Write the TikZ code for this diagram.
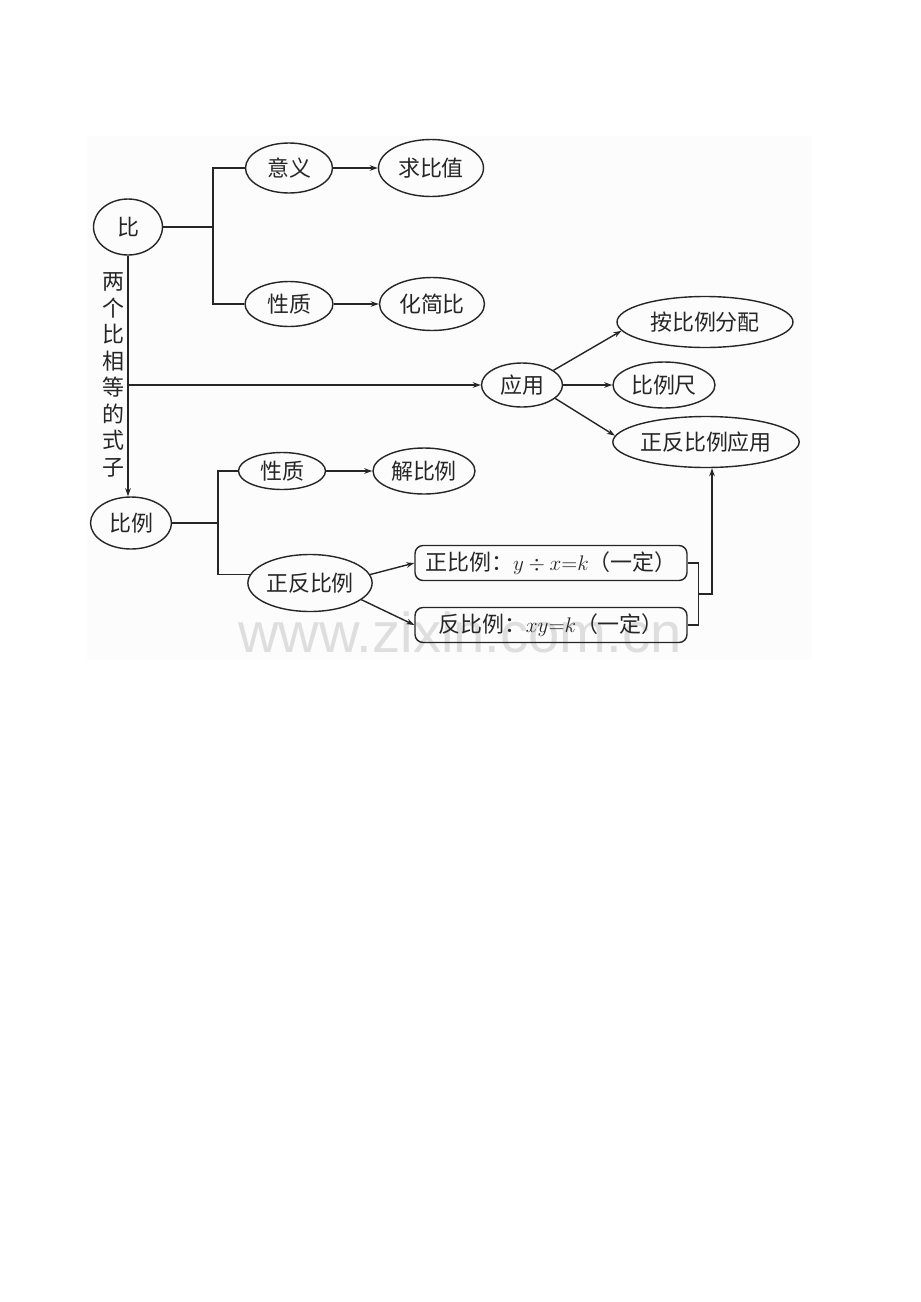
\documentclass[tikz,border=0pt]{standalone}
\usepackage{fontspec}
\newfontfamily\cjk{Noto Sans CJK SC}
\setsansfont{Liberation Sans}
\usetikzlibrary{shapes.geometric,arrows.meta}

\tikzset{
	oval/.style={ellipse,draw,inner sep=0pt},
	tag/.style={rectangle,draw,rounded corners=0.16cm,minimum width=5.44cm,minimum height=0.7cm,inner sep=0pt},
	link/.style={-{Stealth[length=0.16cm,width=0.11cm]}},
}

\begin{document}
\begin{tikzpicture}[x=0.02cm,y=-0.02cm,line width=0.8pt,color=black!85,font=\cjk\fontsize{12.5}{15}\selectfont]
			\useasboundingbox (0,0) rectangle (920,1302);
			\fill[white!99!black] (87,136) rectangle (812,660);
			\node[font=\sffamily\fontsize{32}{32}\selectfont,text=black!13,anchor=base] (wm) at (460,652) {www.zixin.com.cn};

			\node[oval,minimum width=1.38cm,minimum height=1.12cm] (bi) at (128,227) {比};
			\node[oval,minimum width=1.74cm,minimum height=1.0cm] (yiyi) at (289,168) {意义};
			\node[oval,minimum width=2.1cm,minimum height=1.14cm] (qiu) at (431,168) {求比值};
			\node[oval,minimum width=1.76cm,minimum height=0.9cm] (xz1) at (289,304) {性质};
			\node[oval,minimum width=2.1cm,minimum height=1.06cm] (hj) at (432,304) {化简比};

			\node[align=center,font=\cjk\fontsize{12.5}{15.1}\selectfont] (lbl) at (113,375) {两\\个\\比\\相\\等\\的\\式\\子};

			\node[oval,minimum width=1.62cm,minimum height=0.88cm] (yy) at (522,385) {应用};
			\node[oval,minimum width=3.52cm,minimum height=1.02cm] (fp) at (705,322) {按比例分配};
			\node[oval,minimum width=2.04cm,minimum height=0.92cm] (blc) at (664,385) {比例尺};
			\node[oval,minimum width=3.56cm,minimum height=1.02cm] (zfyy) at (706,442) {正反比例应用};

			\node[oval,minimum width=1.62cm,minimum height=1.04cm] (bili) at (131,523) {比例};
			\node[oval,minimum width=1.74cm,minimum height=0.74cm] (xz2) at (282,471) {性质};
			\node[oval,minimum width=2.04cm,minimum height=0.92cm] (jie) at (424,471) {解比例};
			\node[oval,minimum width=2.48cm,minimum height=1.14cm] (zf) at (310,583) {正反比例};
			\node[tag] (zb) at (551,563) {正比例：$y\div x{=}k$（一定）};
			\node[tag] (fb) at (551,625) {反比例：$xy{=}k$（一定）};

			\coordinate (b1) at (213,227);
			\coordinate (b2) at (128,385);
			\coordinate (b3) at (218,523);
			\coordinate (b4) at (698,594);

			\draw (bi) -- (b1);
			\draw (b1) |- (yiyi) (b1) |- (xz1);
			\draw[link] (yiyi) -- (qiu);
			\draw[link] (xz1) -- (hj);
			\draw[link] (bi.south) -- (bi.south |- bili.north);
			\draw[link] (b2) -- (yy);
			\draw[link] (yy.25) -- (fp.186);
			\draw[link] (yy) -- (blc);
			\draw[link] (yy.-22) -- (zfyy.176);

			\draw (bili) -- (b3);
			\draw (b3) |- (xz2) (b3) |- (zf.172);
			\draw[link] (xz2) -- (jie);
			\draw[link] (zf.8) -- (zb.west);
			\draw[link] (zf.-18) -- (fb.west);
			\draw (zb.east) -- ++(11,0) |- (fb.east);
			\draw[link] (b4) -| ([xshift=0.12cm]zfyy.south);
		\end{tikzpicture}
\end{document}
